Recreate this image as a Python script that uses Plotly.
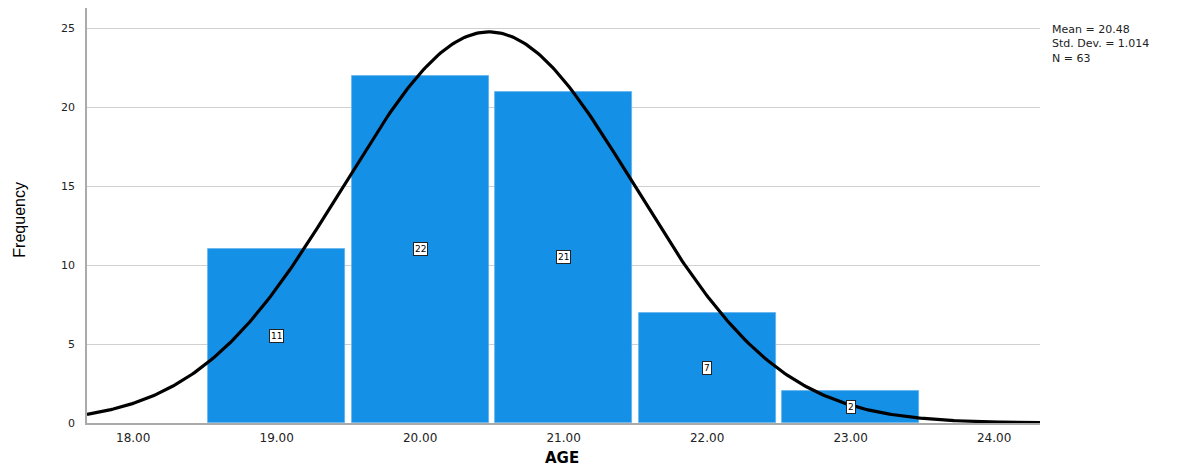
import numpy as np
import plotly.graph_objects as go

ages = [19, 20, 21, 22, 23]
counts = [11, 22, 21, 7, 2]
tick_vals = [18, 19, 20, 21, 22, 23, 24]
tick_text = ["18.00", "19.00", "20.00", "21.00", "22.00", "23.00", "24.00"]
mean_age = 20.48
sd_age = 1.014
n_total = 63
stats_text = ["Mean = 20.48", "Std. Dev. = 1.014", "N = 63"]

x_lo, x_hi = 17.678, 24.32
xs = np.linspace(x_lo, x_hi, 400)
ys = n_total * 1.0 / (sd_age * np.sqrt(2 * np.pi)) * np.exp(-0.5 * ((xs - mean_age) / sd_age) ** 2)

fig = go.Figure()
fig.add_trace(go.Bar(x=ages, y=counts, width=0.955,
                     marker=dict(color="#1490E6", line=dict(color="#5fb2ee", width=0.8)),
                     hoverinfo="skip", showlegend=False))
fig.add_trace(go.Scatter(x=xs, y=ys, mode="lines", line=dict(color="black", width=3.2),
                         hoverinfo="skip", showlegend=False))

for a, c in zip(ages, counts):
    fig.add_annotation(x=a, y=c / 2, text=str(c), showarrow=False,
                       font=dict(family="DejaVu Sans", size=9, color="black"),
                       bgcolor="white", bordercolor="#222", borderwidth=1, borderpad=1)

# plot area height in px (for placing text in paper coords)
ph = 416.0
fig.add_annotation(xref="paper", yref="paper", x=1.0105, y=1 + (7 - 43) / ph,
                   xanchor="left", yanchor="middle",
                   text="<br>".join(stats_text), align="left", showarrow=False,
                   font=dict(family="DejaVu Sans", size=11, color="#222"))
fig.add_annotation(xref="paper", yref="paper", x=(20 - 87) / 953.0, y=0.49, text="Frequency", textangle=-90,
                   xanchor="center", yanchor="middle",
                   showarrow=False, font=dict(family="Liberation Sans", size=16, color="black"))
fig.add_annotation(xref="paper", yref="paper", x=(562 - 87) / 953.0, y=-35 / ph, text="<b>AGE</b>", showarrow=False,
                   xanchor="center", yanchor="middle",
                   font=dict(family="DejaVu Sans", size=15, color="black"))

# page body has an 8px margin, so the figure is offset by (8, 8)
fig.update_layout(
    width=1183, height=461,
    margin=dict(l=79, r=151, t=0, b=46),
    paper_bgcolor="white", plot_bgcolor="white",
    bargap=0,
    xaxis=dict(range=[x_lo, x_hi], tickvals=tick_vals, ticktext=tick_text,
               showgrid=False, zeroline=False, showline=True, linecolor="#aaa", linewidth=1.5,
               ticks="", ticklabelstandoff=3,
               tickfont=dict(family="DejaVu Sans", size=12, color="#222")),
    yaxis=dict(range=[0, 26.3], tickvals=[0, 5, 10, 15, 20, 25],
               showgrid=True, gridcolor="#d0d0d0", gridwidth=1, zeroline=False,
               showline=True, linecolor="#aaa", linewidth=1.5, ticks="",
               ticklabelstandoff=8,
               tickfont=dict(family="DejaVu Sans", size=11, color="#222")),
)

fig.write_html("out.html")
